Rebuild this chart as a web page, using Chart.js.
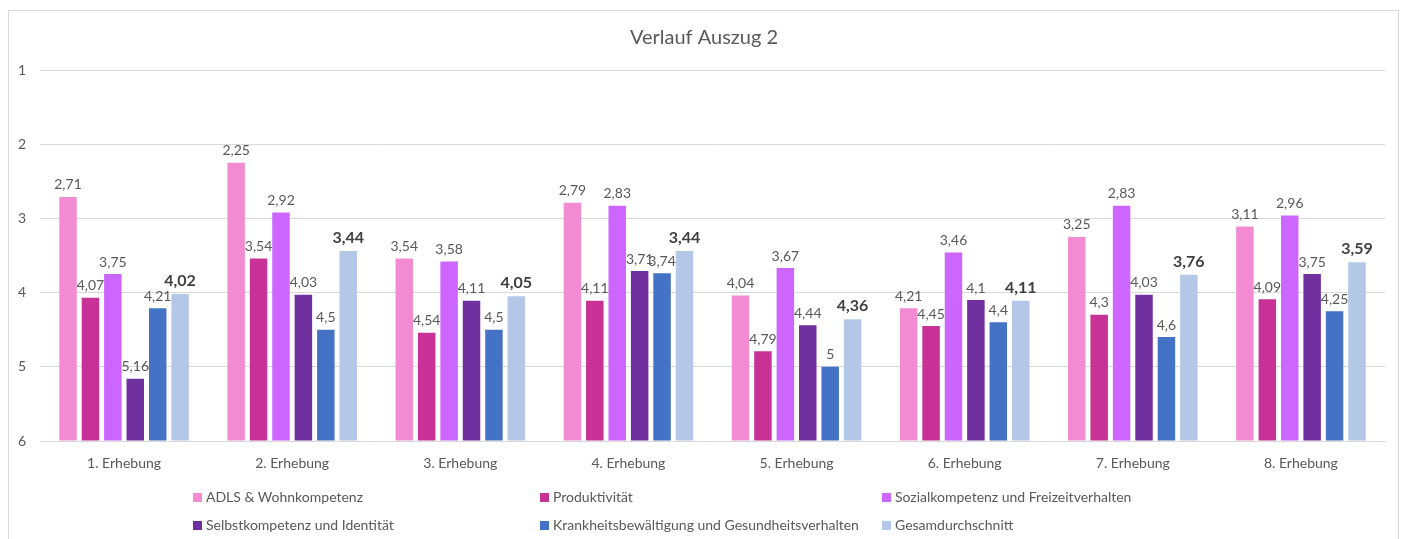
<!DOCTYPE html>
<html lang="de">
<head>
    <meta charset="UTF-8">
    <title>Verlauf Auszug 2</title>
    <script src="https://cdn.jsdelivr.net/npm/chart.js"></script>
    <style>
        body { margin: 0; background: #fff; font-family: Lato, sans-serif; }
        #wrap { position: relative; width: 1408px; height: 539px; overflow: hidden; }
        #frame { position: absolute; left: 8px; top: 10px; width: 1389px; height: 560px; border: 1px solid #d9d9d9; }
        #verlaufChart { position: absolute; left: 0; top: 0; }
        .leg { position: absolute; font-size: 14px; color: #595959; white-space: nowrap; line-height: 16px; }
        .leg span { display: inline-block; width: 9px; height: 9px; margin-right: 4px; vertical-align: 0px; }
    </style>
</head>
<body>
<div id="wrap">
    <div id="frame"></div>
    <canvas id="verlaufChart" width="1408" height="539"></canvas>
    <div id="legend"></div>
</div>

<script>
    // Daten (Skala 1 = oben, 6 = unten)
    const erhebungen = ['1. Erhebung', '2. Erhebung', '3. Erhebung', '4. Erhebung',
                        '5. Erhebung', '6. Erhebung', '7. Erhebung', '8. Erhebung'];
    const adls        = [2.71, 2.25, 3.54, 2.79, 4.04, 4.21, 3.25, 3.11];
    const produktiv   = [4.07, 3.54, 4.54, 4.11, 4.79, 4.45, 4.30, 4.09];
    const sozial      = [3.75, 2.92, 3.58, 2.83, 3.67, 3.46, 2.83, 2.96];
    const selbst      = [5.16, 4.03, 4.11, 3.71, 4.44, 4.10, 4.03, 3.75];
    const krankheit   = [4.21, 4.50, 4.50, 3.74, 5.00, 4.40, 4.60, 4.25];
    const gesamt      = [4.02, 3.44, 4.05, 3.44, 4.36, 4.11, 3.76, 3.59];
    const yTicks      = [1, 2, 3, 4, 5, 6];

    const serien = [
        { label: 'ADLS & Wohnkompetenz', data: adls, color: '#f28bd2' },
        { label: 'Produktivität', data: produktiv, color: '#c83296' },
        { label: 'Sozialkompetenz und Freizeitverhalten', data: sozial, color: '#cc66ff' },
        { label: 'Selbstkompetenz und Identität', data: selbst, color: '#7030a0' },
        { label: 'Krankheitsbewältigung und Gesundheitsverhalten', data: krankheit, color: '#4472c4' },
        { label: 'Gesamdurchschnitt', data: gesamt, color: '#b4c7e7' }
    ];

    const fmt = v => String(v).replace('.', ',');

    // Titel mittig über dem ganzen Rahmen
    const titlePlugin = {
        id: 'frameTitle',
        afterDraw(chart) {
            const ctx = chart.ctx;
            ctx.save();
            ctx.font = '20px Lato';
            ctx.fillStyle = '#595959';
            ctx.textAlign = 'center';
            ctx.textBaseline = 'middle';
            ctx.fillText('Verlauf Auszug 2', chart.width / 2, 38);
            ctx.restore();
        }
    };

    // Wertebeschriftung über den Balken
    const valueLabels = {
        id: 'valueLabels',
        afterDatasetsDraw(chart) {
            const ctx = chart.ctx;
            ctx.save();
            ctx.textAlign = 'center';
            ctx.textBaseline = 'bottom';
            chart.data.datasets.forEach((ds, i) => {
                const meta = chart.getDatasetMeta(i);
                const last = i === chart.data.datasets.length - 1;
                ctx.font = last ? 'bold 16px Lato' : '14px Lato';
                ctx.fillStyle = last ? '#404040' : '#595959';
                meta.data.forEach((bar, j) => {
                    ctx.fillText(fmt(ds.data[j]), bar.x, bar.y - 5);
                });
            });
            ctx.restore();
        }
    };

    const ctx = document.getElementById('verlaufChart').getContext('2d');
    new Chart(ctx, {
        type: 'bar',
        data: {
            labels: erhebungen,
            datasets: serien.map(s => ({
                label: s.label,
                data: s.data,
                backgroundColor: s.color,
                borderWidth: 0,
                base: 6,
                barPercentage: 0.78,
                categoryPercentage: 0.8
            }))
        },
        options: {
            responsive: false,
            animation: false,
            layout: { padding: { left: 0, right: 23, top: 70, bottom: 0 } },
            plugins: {
                legend: { display: false },
                tooltip: { enabled: false },
                title: { display: false }
            },
            scales: {
                x: {
                    grid: { display: false, drawTicks: false },
                    border: { display: true, color: '#d9d9d9' },
                    ticks: { color: '#595959', font: { family: 'Lato', size: 14 }, padding: 14 },
                    afterFit(scale) { scale.height = 98; }
                },
                y: {
                    reverse: true,
                    min: 1,
                    max: 6,
                    afterBuildTicks(scale) { scale.ticks = yTicks.map(v => ({ value: v })); },
                    grid: { color: '#d9d9d9', lineWidth: 1, drawTicks: false },
                    border: { display: false },
                    ticks: { color: '#595959', font: { family: 'Lato', size: 14 }, padding: 14 },
                    afterFit(scale) { scale.width = 40; }
                }
            }
        },
        plugins: [valueLabels, titlePlugin]
    });

    // Legende (3 Spalten, 2 Zeilen wie im Original)
    const legPos = [[193, 489], [540, 489], [882, 489], [193, 517], [540, 517], [882, 517]];
    const legend = document.getElementById('legend');
    serien.forEach((s, i) => {
        const d = document.createElement('div');
        d.className = 'leg';
        d.style.left = legPos[i][0] + 'px';
        d.style.top = legPos[i][1] + 'px';
        d.innerHTML = '<span style="background:' + s.color + '"></span>' + s.label;
        legend.appendChild(d);
    });
</script>
</body>
</html>
